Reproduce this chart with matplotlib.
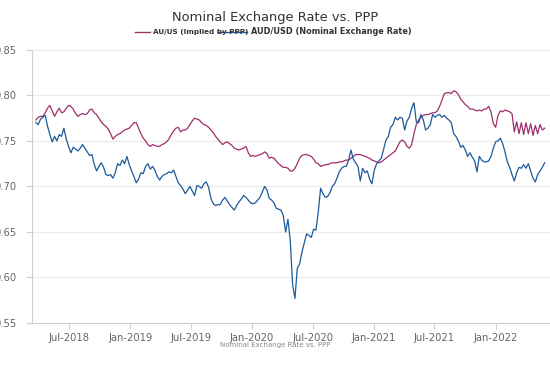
import pandas as pd
import matplotlib

matplotlib.use("Agg")
import matplotlib.pyplot as plt
import matplotlib.dates as mdates
from matplotlib.lines import Line2D

start_date = "2018-03-24"

ppp_implied = [
    0.773, 0.776, 0.777, 0.777, 0.781, 0.786, 0.789, 0.783, 0.777, 0.782,
    0.786, 0.781, 0.782, 0.786, 0.789, 0.788, 0.785, 0.780, 0.777, 0.779,
    0.780, 0.779, 0.780, 0.784, 0.785, 0.781, 0.779, 0.775, 0.771, 0.768,
    0.766, 0.763, 0.758, 0.752, 0.755, 0.757, 0.758, 0.760, 0.762, 0.763,
    0.764, 0.767, 0.770, 0.770, 0.764, 0.758, 0.753, 0.750, 0.746, 0.744,
    0.746, 0.745, 0.744, 0.744, 0.746, 0.747, 0.749, 0.752, 0.757, 0.761,
    0.764, 0.765, 0.760, 0.762, 0.762, 0.764, 0.768, 0.772, 0.775, 0.774,
    0.773, 0.770, 0.768, 0.767, 0.765, 0.762, 0.759, 0.755, 0.752, 0.749,
    0.746, 0.748, 0.749, 0.747, 0.745, 0.742, 0.741, 0.740, 0.741, 0.742,
    0.744, 0.737, 0.733, 0.734, 0.733, 0.734, 0.735, 0.736, 0.738, 0.736,
    0.731, 0.732, 0.731, 0.728, 0.725, 0.723, 0.721, 0.721, 0.720, 0.717,
    0.717, 0.720, 0.725, 0.731, 0.734, 0.735, 0.735, 0.734, 0.733, 0.730,
    0.726, 0.725, 0.722, 0.723, 0.724, 0.724, 0.725, 0.726, 0.726, 0.726,
    0.727, 0.727, 0.728, 0.729, 0.729, 0.731, 0.733, 0.735, 0.735, 0.735,
    0.734, 0.733, 0.732, 0.731, 0.729, 0.728, 0.727, 0.726, 0.727, 0.729,
    0.731, 0.733, 0.735, 0.737, 0.739, 0.744, 0.749, 0.751, 0.749, 0.744,
    0.742, 0.746, 0.758, 0.768, 0.773, 0.776, 0.778, 0.779, 0.779, 0.780,
    0.781, 0.781, 0.783, 0.788, 0.795, 0.802, 0.803, 0.803, 0.802, 0.805,
    0.804, 0.801, 0.796, 0.793, 0.790, 0.788, 0.785, 0.785, 0.784, 0.783,
    0.784, 0.783, 0.785, 0.785, 0.788, 0.782, 0.769, 0.765, 0.778, 0.783,
    0.782, 0.784, 0.783, 0.782, 0.780, 0.760, 0.771, 0.758, 0.770, 0.757,
    0.770, 0.758, 0.769, 0.756, 0.767, 0.758, 0.768, 0.762, 0.764,
]

aud_usd = [
    0.770, 0.768, 0.774, 0.776, 0.778, 0.766, 0.757, 0.749, 0.755, 0.750,
    0.757, 0.755, 0.764, 0.752, 0.744, 0.737, 0.743, 0.741, 0.739, 0.742,
    0.746, 0.742, 0.738, 0.734, 0.735, 0.724, 0.717, 0.722, 0.726, 0.721,
    0.713, 0.712, 0.713, 0.709, 0.715, 0.725, 0.723, 0.729, 0.725, 0.733,
    0.724, 0.717, 0.711, 0.704, 0.708, 0.715, 0.714, 0.722, 0.725, 0.719,
    0.722, 0.718, 0.711, 0.707, 0.711, 0.713, 0.714, 0.716, 0.715, 0.718,
    0.711, 0.704, 0.701, 0.697, 0.692, 0.696, 0.700, 0.695, 0.690, 0.701,
    0.700, 0.698, 0.703, 0.705, 0.699, 0.687, 0.681, 0.679, 0.680, 0.680,
    0.685, 0.688, 0.684, 0.680, 0.677, 0.674, 0.679, 0.683, 0.686, 0.690,
    0.688, 0.685, 0.682, 0.681, 0.682, 0.685, 0.688, 0.694, 0.700, 0.696,
    0.687, 0.685, 0.682, 0.676, 0.675, 0.674, 0.668, 0.650, 0.664, 0.640,
    0.592, 0.577, 0.610, 0.615, 0.628, 0.638, 0.648, 0.646, 0.644, 0.653,
    0.652, 0.672, 0.698, 0.692, 0.688, 0.689, 0.693, 0.700, 0.703, 0.709,
    0.716, 0.720, 0.722, 0.722, 0.729, 0.740, 0.730, 0.726, 0.722, 0.706,
    0.720, 0.715, 0.717, 0.708, 0.703, 0.718, 0.725, 0.728, 0.731, 0.741,
    0.751, 0.755, 0.765, 0.768, 0.776, 0.773, 0.776, 0.775, 0.762, 0.772,
    0.776, 0.786, 0.792, 0.771, 0.770, 0.779, 0.773, 0.762, 0.764, 0.768,
    0.779, 0.776, 0.778, 0.779, 0.776, 0.778, 0.775, 0.773, 0.770, 0.758,
    0.755, 0.750, 0.743, 0.745, 0.740, 0.733, 0.737, 0.732, 0.728, 0.716,
    0.733, 0.729, 0.727, 0.727, 0.728, 0.733, 0.742, 0.749, 0.750, 0.753,
    0.747, 0.738, 0.727, 0.721, 0.713, 0.706, 0.715, 0.721, 0.720, 0.724,
    0.720, 0.725, 0.717, 0.709, 0.705, 0.713, 0.717, 0.721, 0.726,
]

dates = pd.date_range(start_date, periods=len(aud_usd), freq="7D")

title = "Nominal Exchange Rate vs. PPP"
ppp_label = "AU/US (Implied by PPP)"
fx_label = "AUD/USD (Nominal Exchange Rate)"
ppp_color = "#a02e6c"
fx_color = "#1c5a9a"

fig = plt.figure(figsize=(5.5, 3.67), dpi=100)
ax = fig.add_axes([0.058, 0.12, 0.942, 0.744])

ax.plot(dates, ppp_implied, color=ppp_color, linewidth=0.9)
ax.plot(dates, aud_usd, color=fx_color, linewidth=0.9)

ax.set_ylim(0.55, 0.85)
ax.set_yticks([0.55, 0.60, 0.65, 0.70, 0.75, 0.80, 0.85])
ax.yaxis.set_major_formatter(matplotlib.ticker.FormatStrFormatter("%.2f"))
ax.set_xlim(pd.Timestamp("2018-03-12"), pd.Timestamp("2022-06-13"))
ax.xaxis.set_major_locator(mdates.MonthLocator(bymonth=[1, 7]))
ax.xaxis.set_major_formatter(mdates.DateFormatter("%b-%Y"))

# light grid and axes
ax.grid(axis="y", color="#ebebeb", linewidth=0.8)
ax.set_axisbelow(True)
for side in ["top", "right"]:
    ax.spines[side].set_visible(False)
for side in ["left", "bottom"]:
    ax.spines[side].set_color("#d0d0d0")
    ax.spines[side].set_linewidth(0.8)
ax.tick_params(axis="both", colors="#d0d0d0", labelcolor="#666666", labelsize=7.2, length=4, width=0.8)
ax.tick_params(axis="y", pad=7)

fig.text(0.5, 0.953, title, ha="center", va="center", fontsize=9.4, color="#333333")

# legend drawn by hand, the second handle sits over the first label as in the original
fig.add_artist(Line2D([0.245, 0.272], [0.913, 0.913], color=ppp_color, linewidth=1.0))
fig.text(0.278, 0.913, ppp_label, ha="left", va="center", fontsize=5.2, fontweight="bold", color="#333333")
fig.add_artist(Line2D([0.397, 0.449], [0.913, 0.913], color=fx_color, linewidth=1.0))
fig.text(0.457, 0.913, fx_label, ha="left", va="center", fontsize=5.9, fontweight="bold", color="#333333")

fig.text(0.5, 0.06, title, ha="center", va="center", fontsize=5, color="#888888")

fig.savefig("out.png", dpi=100)
plt.close(fig)
